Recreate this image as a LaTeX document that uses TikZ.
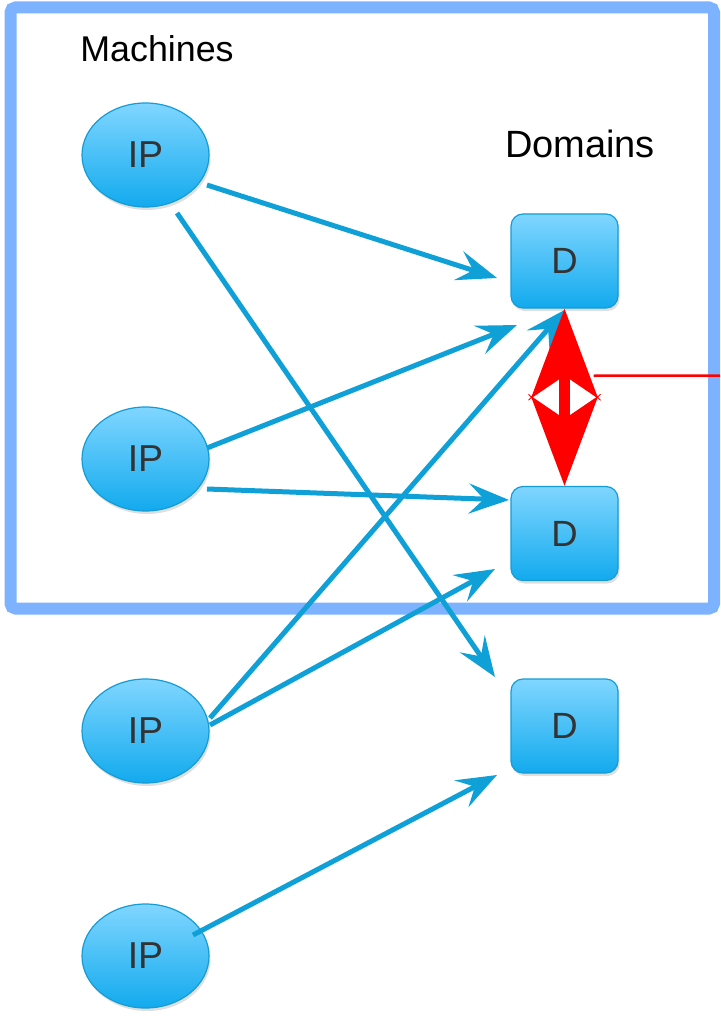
\documentclass[tikz,border=0pt]{standalone}
\usepackage{fontspec}
\setmainfont{Liberation Sans}
\usetikzlibrary{shapes.geometric,arrows.meta,calc,shadows}

\definecolor{framecol}{RGB}{124,178,255}
\definecolor{linkcol}{RGB}{16,160,216}
\definecolor{nodetop}{RGB}{128,214,255}
\definecolor{nodebot}{RGB}{18,170,238}
\definecolor{nodeedge}{RGB}{22,156,212}
\definecolor{labelgray}{RGB}{51,51,51}
\definecolor{alertred}{RGB}{255,0,0}

\tikzset{
  outerframe/.style={draw=framecol, line width=12pt, rounded corners=5pt},
  heading/.style={anchor=base, text=black},
  machinenode/.style={ellipse, draw=nodeedge, line width=1.2pt,
    top color=nodetop, bottom color=nodebot,
    minimum width=127pt, minimum height=104pt, inner sep=0pt,
    font=\fontsize{37.5}{40}\selectfont, text=labelgray,
    drop shadow={shadow xshift=1.5pt, shadow yshift=-3pt, opacity=0.25}},
  domainbox/.style={rectangle, rounded corners=12pt, draw=nodeedge, line width=1.2pt,
    top color=nodetop, bottom color=nodebot,
    minimum width=107pt, minimum height=94pt, inner sep=0pt,
    font=\fontsize{36.5}{40}\selectfont, text=labelgray,
    drop shadow={shadow xshift=1.5pt, shadow yshift=-3pt, opacity=0.25}},
  linkarrow/.style={draw=linkcol, line width=5pt,
    -{Stealth[length=40pt, width=30pt, inset=15pt]}},
  conflictarrow/.style={draw=alertred, line width=11pt,
    {Stealth[length=89pt, width=66pt, inset=22pt]}-{Stealth[length=89pt, width=66pt, inset=22pt]}},
  pointerline/.style={draw=alertred, line width=2.5pt},
  crossmark/.style={draw=alertred, line width=0.8pt}
}

\begin{document}
\begin{tikzpicture}[x=1pt, y=-1pt]
\useasboundingbox (0,0) rectangle (720,1016);

% outer frame around the first two machines and domains
\draw[outerframe] (10.5,7.5) rectangle (714,608.5);

\node[heading, font=\fontsize{35.8}{40}\selectfont] (machines) at (157,62) {Machines};
\node[heading, font=\fontsize{38}{40}\selectfont] (domains) at (580,158) {Domains};

% machines
\node[machinenode] (ip1) at (145.5,155) {IP};
\node[machinenode] (ip2) at (145.5,459) {IP};
\node[machinenode] (ip3) at (145.5,731) {IP};
\node[machinenode] (ip4) at (145.5,956) {IP};

% domains
\node[domainbox] (d1) at (564.5,261) {D};
\node[domainbox] (d2) at (564.5,533.5) {D};
\node[domainbox] (d3) at (564.5,726) {D};

% machine -> domain links
\draw[linkarrow] ($(ip1)+(61.5,30)$) -- ($(d1)+(-67.5,17)$);
\draw[linkarrow] ($(ip1)+(31.5,58)$) -- ($(d3)+(-69.5,-49)$);
\draw[linkarrow] ($(ip2)+(61.5,-11)$) -- ($(d1)+(-47.5,64)$);
\draw[linkarrow] ($(ip2)+(61.5,30)$) -- ($(d2)+(-55.5,-33.5)$);
\draw[linkarrow] ($(ip3)+(64.5,-13)$) -- ($(d1)+(0,49)$);
\draw[linkarrow] ($(ip3)+(64.5,-6)$) -- ($(d2)+(-69.5,35.5)$);
\draw[linkarrow] ($(ip4)+(47.5,-21)$) -- ($(d3)+(-67.5,49)$);

% conflict between the two framed domains
\draw[conflictarrow] (d1.south) -- (d2.north);
\coordinate (mid) at ($(d1.south)!0.5!(d2.north)$);
\foreach \s in {-1,1}{
  \draw[crossmark] ($(mid)+(\s*33-3,0-3)$) -- ($(mid)+(\s*33+3,0+3)$);
  \draw[crossmark] ($(mid)+(\s*33-3,0+3)$) -- ($(mid)+(\s*33+3,0-3)$);
}
\coordinate (offpage) at (720,375.5);
\draw[pointerline] ($(mid)+(29,-21.5)$) -- (offpage);
\end{tikzpicture}
\end{document}
